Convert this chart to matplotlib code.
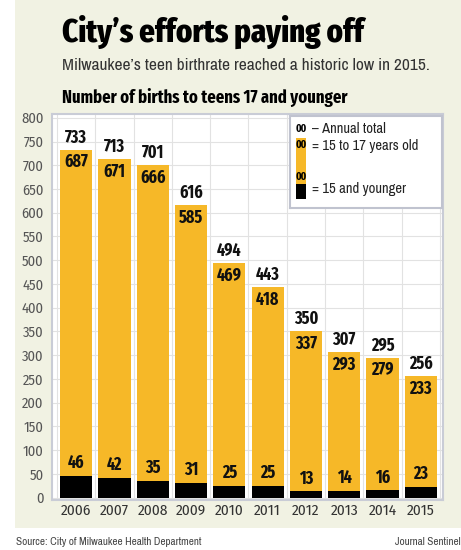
import matplotlib.pyplot as plt
from matplotlib.patches import Rectangle
from matplotlib import font_manager

# Teen births in Milwaukee by year
years = ['2006', '2007', '2008', '2009', '2010', '2011', '2012', '2013', '2014', '2015']
total = [733, 713, 701, 616, 494, 443, 350, 307, 295, 256]
age_15_17 = [687, 671, 666, 585, 469, 418, 337, 293, 279, 233]
under_15 = [46, 42, 35, 31, 25, 25, 13, 14, 16, 23]

GOLD = '#F6B828'
CREAM = '#F1F2E3'

names = {f.name for f in font_manager.fontManager.ttflist}


def pick(*cands):
    for c in cands:
        if c in names:
            return c
    return 'DejaVu Sans'


head = pick('Fira Sans Extra Condensed', 'Barlow Condensed', 'Archivo Narrow')
num = pick('Fira Sans Extra Condensed', 'Barlow Condensed', 'Archivo Narrow')
body = pick('Archivo Narrow', 'Fira Sans Condensed', 'Barlow Condensed')
tick = pick('Fira Sans Condensed', 'Archivo Narrow', 'Barlow Condensed')

fig = plt.figure(figsize=(4.61, 5.50), dpi=100)
fig.patches.append(Rectangle((15 / 461, 22 / 550), 1, 1, transform=fig.transFigure,
                             facecolor=CREAM, edgecolor='none', zorder=-10))

ax = fig.add_axes([52 / 461, 50 / 550, 391 / 461, 386 / 550])
ax.set_facecolor('white')

x = list(range(len(years)))
ax.bar(x, under_15, width=0.84, color='black', zorder=3)
ax.bar(x, age_15_17, width=0.84, bottom=under_15, color=GOLD, zorder=3)

lab = dict(ha='center', fontsize=12.5, fontweight='bold', family=num, color='#111111', zorder=4)
for i in x:
    ax.text(i, total[i] + 7, str(total[i]), va='bottom', **lab)
    ax.text(i, total[i] - 8, str(age_15_17[i]), va='top', **lab)
    ax.text(i, under_15[i] + 8, str(under_15[i]), va='bottom', **lab)

ax.set_xlim(-0.63, 9.58)
ax.set_ylim(-5, 808)
ax.set_yticks(range(0, 801, 50))
ax.set_xticks(x)
ax.set_xticklabels(years, family=tick, fontsize=11, color='#333333')
for lbl in ax.get_yticklabels():
    lbl.set_family(tick)
    lbl.set_fontsize(10.5)
    lbl.set_color('#555555')
ax.tick_params(axis='both', length=0, pad=3)
ax.tick_params(axis='y', pad=6)

ax.grid(axis='y', color='#E2E2E2', linewidth=0.8, zorder=0)
for b in [i + 0.5 for i in range(-1, 10)]:
    ax.axvline(b, color='#E2E2E2', linewidth=0.8, zorder=0)
for s in ax.spines.values():
    s.set_color('#C9CCD6')
    s.set_linewidth(1.5)

# legend box
lg = fig.add_axes([290 / 461, 342 / 550, 152 / 461, 92 / 550])
lg.set_xlim(0, 152)
lg.set_ylim(92, 0)
lg.set_xticks([])
lg.set_yticks([])
for s in lg.spines.values():
    s.set_color('#C0C3CF')
    s.set_linewidth(1.5)
lg.add_patch(Rectangle((6, 22), 10, 46, facecolor=GOLD, edgecolor='none'))
lg.add_patch(Rectangle((6, 68), 10, 15, facecolor='black', edgecolor='none'))
sym = dict(ha='center', va='center', fontsize=8, fontweight='bold', family=num)
lg.text(11, 13, '00', **sym)
lg.text(11, 29, '00', **sym)
lg.text(11, 61, '00', **sym)
leg = dict(va='center', fontsize=10.5, family=body, color='#222222')
lg.text(22, 13, '– Annual total', **leg)
lg.text(22, 30, '= 15 to 17 years old', **leg)
lg.text(22, 73, '= 15 and younger', **leg)

fig.text(62 / 461, 1 - 32 / 550, 'City’s efforts paying off', fontsize=24, fontweight='heavy',
         family=head, va='center', color='black')
fig.text(62 / 461, 1 - 66 / 550, 'Milwaukee’s teen birthrate reached a historic low in 2015.',
         fontsize=12.5, family=body, va='center', color='#333333')
fig.text(62 / 461, 1 - 97 / 550, 'Number of births to teens 17 and younger', fontsize=13,
         fontweight='bold', family=head, va='center', color='black')
fig.text(16 / 461, 1 - 542 / 550, 'Source: City of Milwaukee Health Department', fontsize=8,
         family=body, va='center', color='#444444')
fig.text(1.0, 1 - 542 / 550, 'Journal Sentinel', fontsize=8, family=body, va='center',
         ha='right', color='#444444')

fig.savefig('out.png', dpi=100)
